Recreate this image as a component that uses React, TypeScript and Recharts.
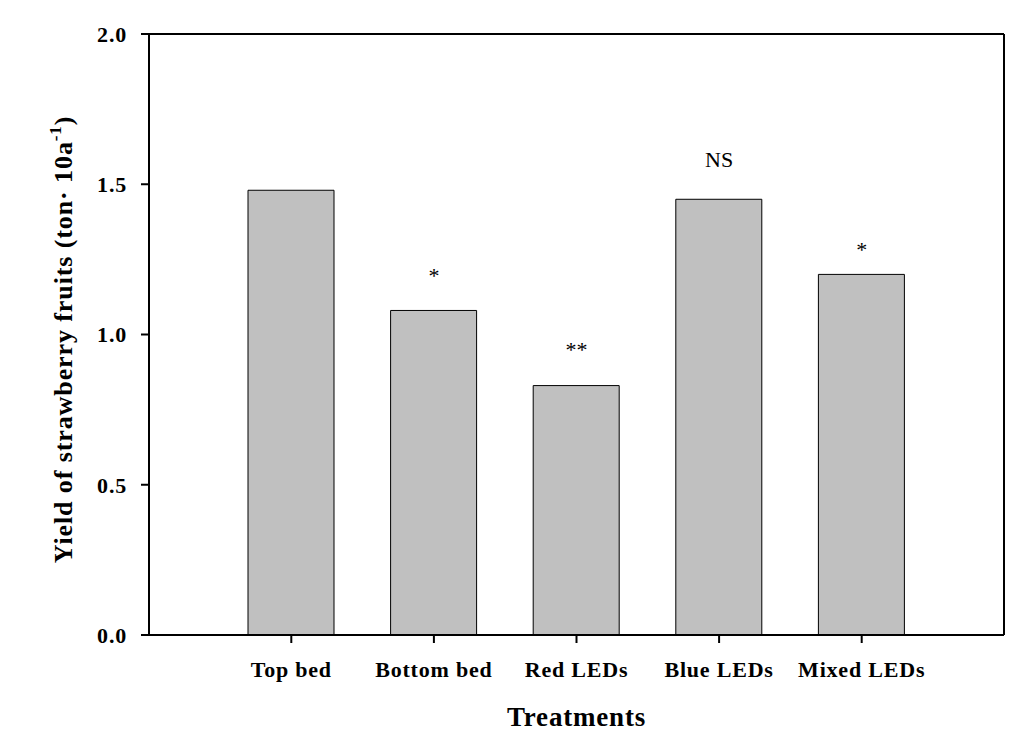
import React from 'react';
import { ComposedChart, Bar, Scatter, XAxis, YAxis, Label } from 'recharts';

const categories = ['Top bed', 'Bottom bed', 'Red LEDs', 'Blue LEDs', 'Mixed LEDs'];
const yields = [1.48, 1.08, 0.83, 1.45, 1.2];
const marks = ['', '*', '**', 'NS', '*'];
const markHeights: (number | null)[] = [null, 1.17, 0.925, 1.557, 1.258];
const yTicks = [0, 0.5, 1.0, 1.5, 2.0];

const data = categories.map((name, i) => ({
  name,
  value: yields[i],
  mark: marks[i],
  markY: markHeights[i],
}));

const FONT = '"Liberation Serif", "Times New Roman", serif';

const MarkShape = (props: any) => {
  const { cx, cy, payload } = props;
  if (!payload || !payload.mark || cx == null || cy == null) return null;
  return (
    <text x={cx} y={cy} textAnchor="middle" fontSize={22} fontFamily={FONT} fill="#000">
      {payload.mark}
    </text>
  );
};

const YLabel = (props: any) => {
  const vb = props.viewBox || {};
  const cx = 72;
  const cy = (vb.y ?? 34) + (vb.height ?? 601) / 2 + 5;
  return (
    <text
      x={cx}
      y={cy}
      transform={`rotate(-90, ${cx}, ${cy})`}
      textAnchor="middle"
      fontSize={26}
      fontWeight="bold"
      fontFamily={FONT}
      letterSpacing={0.9}
      fill="#000"
    >
      <tspan>Yield of strawberry fruits (ton· 10a</tspan>
      <tspan dy={-11} fontSize={17}>-1</tspan>
      <tspan dy={11}>)</tspan>
    </text>
  );
};

const XLabel = (props: any) => {
  const vb = props.viewBox || {};
  const cx = (vb.x ?? 149) + (vb.width ?? 855) / 2;
  return (
    <text x={cx} y={726} textAnchor="middle" fontSize={27} fontWeight="bold" fontFamily={FONT} letterSpacing={0.8} fill="#000">
      Treatments
    </text>
  );
};

export default function App() {
  return (
    <div style={{ position: 'absolute', left: 0, top: 0, background: '#fff' }}>
      <ComposedChart
        width={1012}
        height={737}
        data={data}
        margin={{ top: 33, right: 7, left: 0, bottom: 0 }}
      >
        <XAxis
          dataKey="name"
          height={102}
          padding={{ left: 71, right: 71 }}
          tickSize={8}
          tickMargin={18}
          axisLine={{ stroke: '#000', strokeWidth: 2 }}
          tickLine={{ stroke: '#000', strokeWidth: 2 }}
          tick={{ fill: '#000', fontSize: 22, fontWeight: 'bold', fontFamily: FONT, letterSpacing: 0.8 }}
          interval={0}
        >
          <Label content={<XLabel />} />
        </XAxis>
        <XAxis
          xAxisId="top"
          orientation="top"
          dataKey="name"
          height={1}
          padding={{ left: 71, right: 71 }}
          tick={false}
          tickLine={false}
          axisLine={{ stroke: '#000', strokeWidth: 2 }}
        />
        <YAxis
          width={149}
          domain={[0, 2]}
          ticks={yTicks}
          tickFormatter={(v: number) => v.toFixed(1)}
          tickSize={8}
          tickMargin={14}
          axisLine={{ stroke: '#000', strokeWidth: 2 }}
          tickLine={{ stroke: '#000', strokeWidth: 2 }}
          tick={{ fill: '#000', fontSize: 22, fontWeight: 'bold', fontFamily: FONT, letterSpacing: 0.8 }}
        >
          <Label content={<YLabel />} />
        </YAxis>
        <YAxis
          yAxisId="right"
          orientation="right"
          width={1}
          domain={[0, 2]}
          tick={false}
          tickLine={false}
          axisLine={{ stroke: '#000', strokeWidth: 2 }}
        />
        <Bar dataKey="value" fill="#c0c0c0" stroke="#000" strokeWidth={1} barSize={86} isAnimationActive={false} />
        <Scatter dataKey="markY" shape={<MarkShape />} isAnimationActive={false} />
      </ComposedChart>
    </div>
  );
}
